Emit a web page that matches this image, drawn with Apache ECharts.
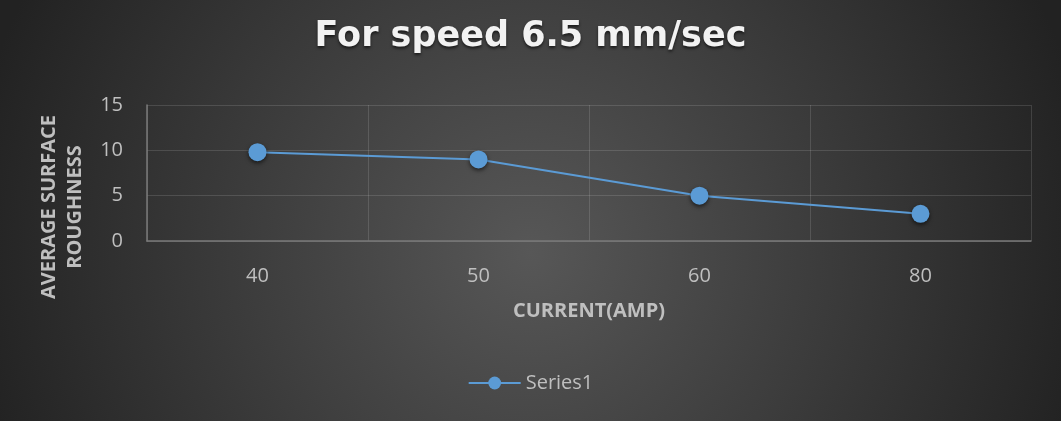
<!DOCTYPE html>
<html>
<head>
<meta charset="utf-8">
<script src="https://cdn.jsdelivr.net/npm/echarts@6/dist/echarts.min.js"></script>
<style>
  html, body { margin: 0; padding: 0; background: #262626; }
  #main { width: 1061px; height: 421px; }
</style>
</head>
<body>
<div id="main"></div>
<script>
// chart data
const currents = ['40', '50', '60', '80'];
const roughness = [9.8, 9.0, 5.0, 3.0];
const seriesName = 'Series1';
const yTicks = { min: 0, max: 15, interval: 5 };

const font = '"Open Sans", "DejaVu Sans", sans-serif';

let myChart = echarts.init(document.getElementById('main'));

let option = {
    backgroundColor: {
        type: 'radial',
        x: 0.5, y: 0.6, r: 1.35,
        colorStops: [
            { offset: 0, color: '#575757' },
            { offset: 1, color: '#222222' }
        ]
    },
    title: {
        text: 'For speed 6.5 mm/sec',
        left: 'center',
        top: 14,
        textStyle: {
            fontFamily: '"DejaVu Sans", sans-serif',
            fontSize: 35,
            fontWeight: 'bold',
            color: '#f2f2f2',
            textShadowColor: 'rgba(0,0,0,0.6)',
            textShadowBlur: 3,
            textShadowOffsetY: 2
        }
    },
    legend: {
        top: 368,
        left: 'center',
        itemWidth: 52,
        itemHeight: 16,
        itemGap: 4,
        textStyle: { fontFamily: font, fontSize: 20, color: '#bfbfbf' },
        data: [seriesName]
    },
    grid: {
        left: 147,
        right: 30,
        top: 105,
        bottom: 180
    },
    xAxis: {
        type: 'category',
        data: currents,
        boundaryGap: true,
        name: 'CURRENT(AMP)',
        nameLocation: 'middle',
        nameGap: 60,
        nameTextStyle: { fontFamily: font, fontSize: 20, fontWeight: 'bold', color: '#bfbfbf' },
        axisLine: { lineStyle: { color: '#7a7a7a', width: 1.5 } },
        axisTick: { show: false },
        axisLabel: { fontFamily: font, fontSize: 20, color: '#bfbfbf', margin: 25 },
        splitLine: { show: true, lineStyle: { color: 'rgba(255,255,255,0.13)', width: 1 } }
    },
    yAxis: {
        type: 'value',
        min: yTicks.min,
        max: yTicks.max,
        interval: yTicks.interval,
        name: 'AVERAGE SURFACE\nROUGHNESS',
        nameLocation: 'middle',
        nameGap: 59,
        nameTextStyle: {
            fontFamily: font, fontSize: 20, fontWeight: 'bold', color: '#bfbfbf',
            lineHeight: 26,
            padding: [0, 68, 0, 0]
        },
        axisLine: { show: true, lineStyle: { color: '#7a7a7a', width: 1.5 } },
        axisTick: { show: false },
        axisLabel: { fontFamily: font, fontSize: 20, color: '#bfbfbf', margin: 24 },
        splitLine: { lineStyle: { color: 'rgba(255,255,255,0.13)', width: 1 } }
    },
    series: [{
        name: seriesName,
        type: 'line',
        data: roughness,
        symbol: 'circle',
        symbolSize: 18,
        lineStyle: { color: '#5b9bd5', width: 2 },
        itemStyle: {
            color: '#5b9bd5',
            shadowColor: 'rgba(0,0,0,0.6)',
            shadowBlur: 4,
            shadowOffsetY: 2
        }
    }]
};

myChart.setOption(option);
</script>
</body>
</html>
